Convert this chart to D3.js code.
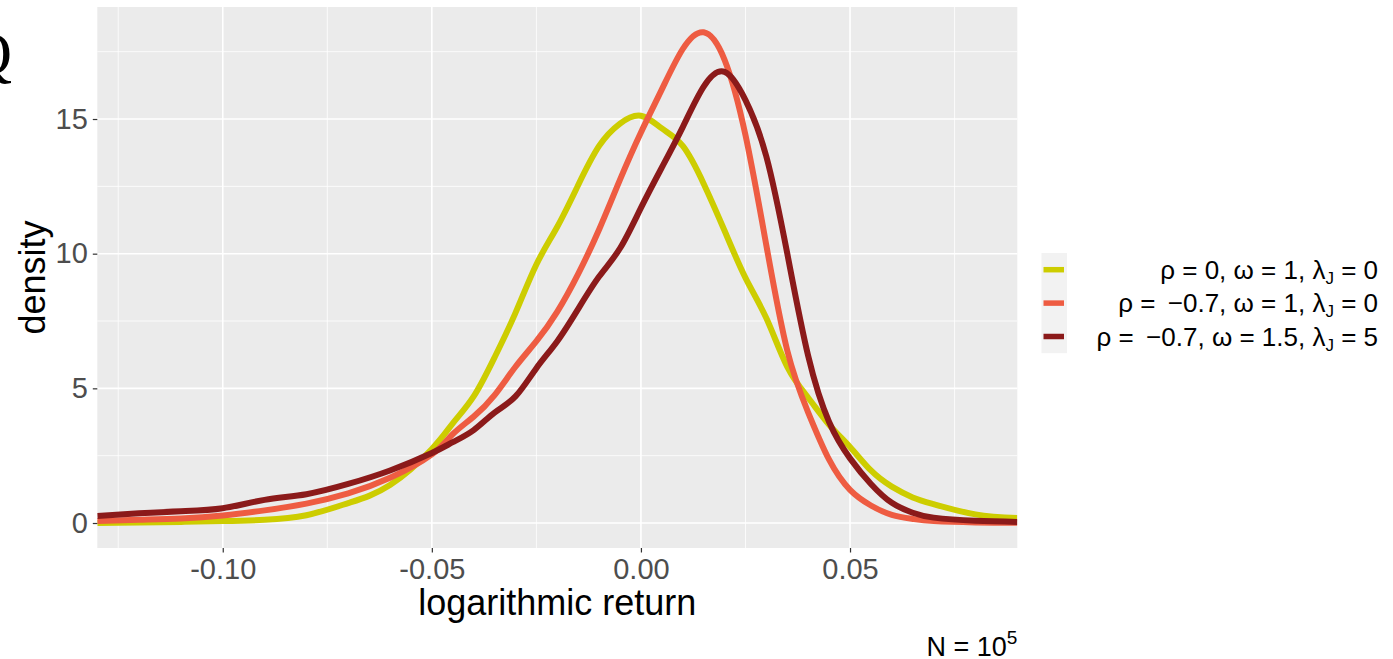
<!DOCTYPE html>
<html>
<head>
<meta charset="utf-8">
<script src="https://cdn.jsdelivr.net/npm/d3@7"></script>
<style>
  body { margin: 0; background: #ffffff; }
  svg { display: block; }
  text { font-family: "Liberation Sans", Arial, Helvetica, sans-serif; }
</style>
</head>
<body>
<svg id="chart" width="1393" height="659"></svg>
<script>
// Kernel density estimates of simulated log returns (N = 10^5 paths)
const logReturn = [-0.13, -0.12, -0.11, -0.10, -0.09, -0.08, -0.07, -0.06, -0.05,
  -0.045, -0.04, -0.035, -0.03, -0.025, -0.02, -0.015, -0.01, -0.005, 0,
  0.005, 0.01, 0.015, 0.02, 0.025, 0.03, 0.035, 0.04, 0.045, 0.05, 0.055, 0.06, 0.065,
  0.07, 0.08, 0.09];

// rho = 0, omega = 1, lambda_J = 0
const densityBase = [0.0, 0.02, 0.04, 0.07, 0.12, 0.29, 0.74, 1.41, 2.75,
  3.7, 4.7, 6.15, 7.8, 9.6, 11.0, 12.55, 14.0, 14.83, 15.12,
  14.65, 14.0, 12.6, 10.85, 9.1, 7.6, 5.8, 4.65, 3.65, 2.82, 1.95, 1.35, 0.95,
  0.7, 0.32, 0.19];

// rho = -0.7, omega = 1, lambda_J = 0
const densityLeverage = [0.07, 0.12, 0.17, 0.28, 0.47, 0.72, 1.1, 1.68, 2.55,
  3.3, 3.95, 4.75, 5.8, 6.75, 7.85, 9.25, 10.9, 12.75, 14.5,
  16.1, 17.6, 18.22, 17.2, 14.4, 10.3, 6.4, 4.1, 2.35, 1.23, 0.65, 0.3, 0.15,
  0.07, 0.02, 0.01];

// rho = -0.7, omega = 1.5, lambda_J = 5
const densityJumps = [0.26, 0.36, 0.44, 0.55, 0.86, 1.07, 1.45, 1.95, 2.6,
  3.0, 3.45, 4.1, 4.7, 5.75, 6.75, 7.95, 9.15, 10.2, 11.7,
  13.2, 14.7, 16.2, 16.75, 15.7, 13.6, 10.0, 6.2, 3.75, 2.4, 1.45, 0.75, 0.38,
  0.2, 0.08, 0.04];

const seriesColors = ["#CDCD00", "#EE5C42", "#8B1A1A"];
const rhoLabels = ["0", "\u22120.7", "\u22120.7"];
const omegaLabels = ["1", "1", "1.5"];
const lambdaLabels = ["0", "0", "5"];

const xTickValues = [-0.10, -0.05, 0, 0.05];
const xTickLabels = ["-0.10", "-0.05", "0.00", "0.05"];
const xMinorValues = [-0.125, -0.075, -0.025, 0.025, 0.075];
const yTickValues = [0, 5, 10, 15];
const yTickLabels = ["0", "5", "10", "15"];
const yMinorValues = [2.5, 7.5, 12.5, 17.5];

const xDomain = [-0.13, 0.09];
const yDomain = [-0.928, 19.159];

// ---- layout ----
const panel = { left: 97.3, right: 1017.3, top: 7, bottom: 548 };
const svg = d3.select("#chart");

const x = d3.scaleLinear().domain(xDomain).range([panel.left, panel.right]);
const y = d3.scaleLinear().domain(yDomain).range([panel.bottom, panel.top]);

// panel background
svg.append("rect")
  .attr("x", panel.left).attr("y", panel.top)
  .attr("width", panel.right - panel.left)
  .attr("height", panel.bottom - panel.top)
  .attr("fill", "#EBEBEB");

// grid
const grid = svg.append("g");
grid.selectAll(".vminor").data(xMinorValues).join("line")
  .attr("x1", d => x(d)).attr("x2", d => x(d))
  .attr("y1", panel.top).attr("y2", panel.bottom)
  .attr("stroke", "#ffffff").attr("stroke-width", 0.8);
grid.selectAll(".hminor").data(yMinorValues).join("line")
  .attr("y1", d => y(d)).attr("y2", d => y(d))
  .attr("x1", panel.left).attr("x2", panel.right)
  .attr("stroke", "#ffffff").attr("stroke-width", 0.8);
grid.selectAll(".vmajor").data(xTickValues).join("line")
  .attr("x1", d => x(d)).attr("x2", d => x(d))
  .attr("y1", panel.top).attr("y2", panel.bottom)
  .attr("stroke", "#ffffff").attr("stroke-width", 1.6);
grid.selectAll(".hmajor").data(yTickValues).join("line")
  .attr("y1", d => y(d)).attr("y2", d => y(d))
  .attr("x1", panel.left).attr("x2", panel.right)
  .attr("stroke", "#ffffff").attr("stroke-width", 1.6);

// density curves, clipped to the panel
svg.append("clipPath").attr("id", "panel-clip")
  .append("rect")
  .attr("x", panel.left).attr("y", panel.top)
  .attr("width", panel.right - panel.left)
  .attr("height", panel.bottom - panel.top);

const seriesList = [densityBase, densityLeverage, densityJumps];
const line = d3.line()
  .x(d => x(d[0]))
  .y(d => y(d[1]))
  .curve(d3.curveNatural);

svg.append("g").attr("clip-path", "url(#panel-clip)")
  .selectAll("path")
  .data(seriesList)
  .join("path")
  .attr("d", s => line(logReturn.map((r, i) => [r, s[i]])))
  .attr("fill", "none")
  .attr("stroke", (s, i) => seriesColors[i])
  .attr("stroke-width", 6)
  .attr("stroke-linejoin", "round");

// axes
const xAxis = d3.axisBottom(x)
  .tickValues(xTickValues)
  .tickFormat((d, i) => xTickLabels[i])
  .tickSize(4.5)
  .tickPadding(6);
const gx = svg.append("g")
  .attr("transform", `translate(0,${panel.bottom})`)
  .call(xAxis);

const yAxis = d3.axisLeft(y)
  .tickValues(yTickValues)
  .tickFormat((d, i) => yTickLabels[i])
  .tickSize(4.5)
  .tickPadding(5);
const gy = svg.append("g")
  .attr("transform", `translate(${panel.left},0)`)
  .call(yAxis);

[gx, gy].forEach(g => {
  g.select(".domain").remove();
  g.selectAll(".tick line").attr("stroke", "#333333").attr("stroke-width", 1.2);
  g.selectAll(".tick text")
    .attr("fill", "#4D4D4D")
    .style("font-size", "29px")
    .style("font-family", "\"Liberation Sans\", Arial, sans-serif");
});

// axis titles
svg.append("text")
  .attr("x", (panel.left + panel.right) / 2)
  .attr("y", 615)
  .attr("text-anchor", "middle")
  .style("font-size", "36px")
  .attr("fill", "#000000")
  .text("logarithmic return");

svg.append("text")
  .attr("transform", `translate(45,${(panel.top + panel.bottom) / 2}) rotate(-90)`)
  .attr("text-anchor", "middle")
  .style("font-size", "36px")
  .attr("fill", "#000000")
  .text("density");

// caption
const caption = svg.append("text")
  .attr("x", panel.right)
  .attr("y", 656)
  .attr("text-anchor", "end")
  .style("font-size", "27px")
  .attr("fill", "#000000");
caption.append("tspan").text("N = 10");
caption.append("tspan").attr("dy", -12).style("font-size", "19px").text("5");

// panel tag at the left margin
svg.append("text")
  .attr("x", 12)
  .attr("y", 74)
  .attr("text-anchor", "end")
  .style("font-family", "\"Liberation Serif\", \"DejaVu Serif\", serif")
  .style("font-size", "62px")
  .attr("fill", "#000000")
  .text("Q");

// legend
const legend = svg.append("g");
const keyTop = 253, keyH = 33.4, keyLeft = 1041.5, keyW = 25.5;
legend.append("rect")
  .attr("x", keyLeft).attr("y", keyTop)
  .attr("width", keyW).attr("height", keyH * 3)
  .attr("fill", "#F2F2F2");

const items = legend.selectAll(".item")
  .data(seriesColors)
  .join("g")
  .attr("transform", (d, i) => `translate(0,${keyTop + keyH * (i + 0.5)})`);

items.append("line")
  .attr("x1", keyLeft + 2).attr("x2", keyLeft + keyW - 3)
  .attr("y1", 0).attr("y2", 0)
  .attr("stroke", d => d)
  .attr("stroke-width", 5.5);

items.each(function (d, i) {
  const t = d3.select(this).append("text")
    .attr("x", 1378)
    .attr("y", 9)
    .attr("text-anchor", "end")
    .style("font-size", "26px")
    .attr("fill", "#000000");
  const rhoGap = i > 0 ? "\u2009" : "";
  t.append("tspan").text(`\u03C1 = ${rhoGap}${rhoLabels[i]}, \u03C9 = ${omegaLabels[i]}, \u03BB`);
  t.append("tspan").attr("dy", 5).style("font-size", "17px").text("J");
  t.append("tspan").attr("dy", -5).text(` = ${lambdaLabels[i]}`);
});
</script>
</body>
</html>
